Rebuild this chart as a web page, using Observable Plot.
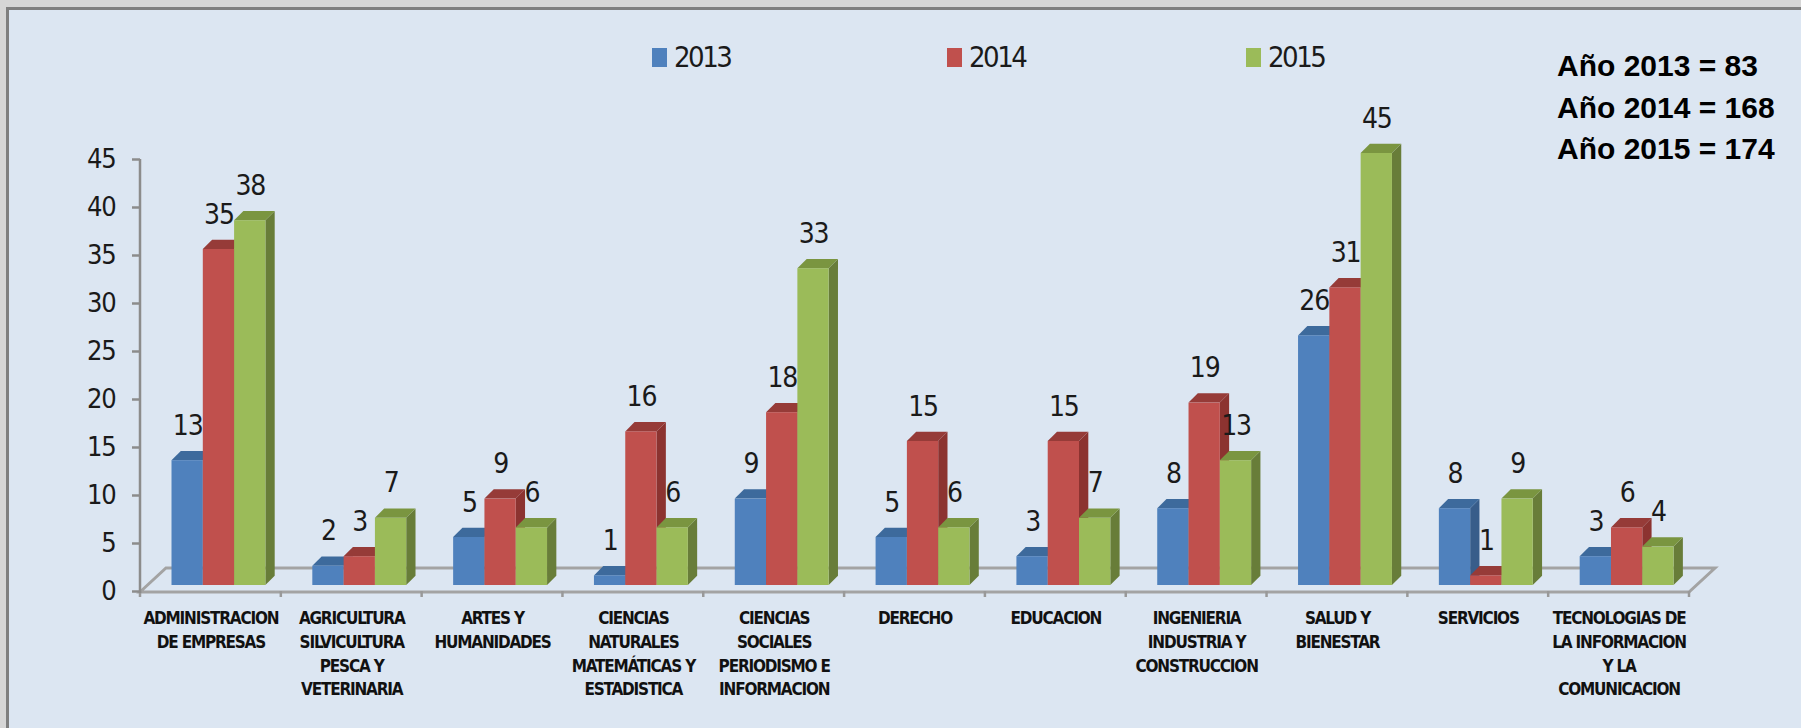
<!DOCTYPE html>
<html><head><meta charset="utf-8">
<script src="https://cdn.jsdelivr.net/npm/d3@7"></script>
<script src="https://cdn.jsdelivr.net/npm/@observablehq/plot@0.6"></script>
<style>
html,body{margin:0;padding:0;width:1801px;height:728px;overflow:hidden;background:#d6d6d6;}
#panel{position:absolute;left:6px;top:7px;width:1800px;height:730px;background:#dce6f2;border-left:3px solid #7f7f7f;border-top:3px solid #7f7f7f;}
#chart{position:absolute;left:0;top:0;}
.sq{position:absolute;width:15px;height:19px;}
.lt{position:absolute;font-family:"Liberation Sans Narrow","DejaVu Sans Condensed",sans-serif;font-size:29px;line-height:29px;letter-spacing:-2.5px;color:#1a1a1a;}
#totals{position:absolute;left:1557px;top:45px;font-family:"Liberation Sans",Arial,sans-serif;font-weight:bold;font-size:30px;line-height:41.5px;color:#000;}
</style></head><body>
<div id="panel"></div>
<div id="chart"></div>
<div id="legend"></div>
<div id="totals"></div>
<script>
// ---- data ----
const categories = ["ADMINISTRACION DE EMPRESAS","AGRICULTURA SILVICULTURA PESCA Y VETERINARIA","ARTES Y HUMANIDADES","CIENCIAS NATURALES MATEMÁTICAS Y ESTADISTICA","CIENCIAS SOCIALES PERIODISMO E INFORMACION","DERECHO","EDUCACION","INGENIERIA INDUSTRIA Y CONSTRUCCION","SALUD Y BIENESTAR","SERVICIOS","TECNOLOGIAS DE LA INFORMACION Y LA COMUNICACION"];
const categoryLabels = ["ADMINISTRACION\nDE EMPRESAS","AGRICULTURA\nSILVICULTURA\nPESCA Y\nVETERINARIA","ARTES Y\nHUMANIDADES","CIENCIAS\nNATURALES\nMATEMÁTICAS Y\nESTADISTICA","CIENCIAS\nSOCIALES\nPERIODISMO E\nINFORMACION","DERECHO","EDUCACION","INGENIERIA\nINDUSTRIA Y\nCONSTRUCCION","SALUD Y\nBIENESTAR","SERVICIOS","TECNOLOGIAS DE\nLA INFORMACION\nY LA\nCOMUNICACION"];
const years = ["2013","2014","2015"];
const values2013 = [13,2,5,1,9,5,3,8,26,8,3];
const values2014 = [35,3,9,16,18,15,15,19,31,1,6];
const values2015 = [38,7,6,6,33,6,7,13,45,9,4];
const totals = [83,168,174];
const yTicks = [0,5,10,15,20,25,30,35,40,45];

// ---- styling ----
const series = [values2013, values2014, values2015];
const frontColors = ["#4f81bd","#c0504d","#9bbb59"];
const topColors = ["#3d6a9c","#963b38","#7a9540"];
const sideColors = ["#385d8a","#8c3330","#687d39"];
const FONT = '"Liberation Sans Narrow","DejaVu Sans Condensed",sans-serif';

const W = 1801, H = 728, ML = 140, MR = 112, MT = 159, MB = 137;
const bw = (W - ML - MR) / categories.length;
const barOff = 31.5, barW = 31.3, depth = 9.3, lift = 6;

const rows = years.map((yr, k) => categories.map((c, i) => ({cat: c, year: yr, value: series[k][i], k})));

function floorMark(index, scales, values, dims) {
  const {x, y} = scales;
  const x0 = dims.marginLeft, x1 = dims.width - dims.marginRight;
  const y0 = y(0) + 1, ox = 26, oy = 24;
  const g = d3.create("svg:g").attr("fill", "none");
  g.append("path").attr("stroke", "#a3a3a3").attr("stroke-width", 3).attr("stroke-linejoin", "miter")
    .attr("d", `M${x0},${y0}L${x0 + ox},${y0 - oy}L${x1 + ox},${y0 - oy}L${x1},${y0}Z`);
  const bounds = categories.map(c => x(c)).concat([x1]);
  for (const bx of bounds) {
    g.append("line").attr("stroke", "#999").attr("stroke-width", 2.5)
      .attr("x1", bx).attr("x2", bx).attr("y1", y0 - 1).attr("y2", y0 + 5);
  }
  g.append("line").attr("stroke", "#8c8c8c").attr("stroke-width", 2.5)
    .attr("x1", x0).attr("x2", x0).attr("y1", y(45)).attr("y2", y(0) + 2);
  return g.node();
}

const facesMark = k => (index, scales) => {
  const {x, y} = scales;
  const g = d3.create("svg:g");
  categories.forEach((c, i) => {
    const v = series[k][i];
    const xl = x(c) + barOff + k * barW, xr = xl + barW;
    const yb = y(0) - lift, yt = y(v) - lift;
    g.append("path").attr("fill", sideColors[k])
      .attr("d", `M${xr},${yb}L${xr + depth},${yb - depth}L${xr + depth},${yt - depth}L${xr},${yt}Z`);
    g.append("path").attr("fill", topColors[k])
      .attr("d", `M${xl},${yt}L${xl + depth},${yt - depth}L${xr + depth},${yt - depth}L${xr},${yt}Z`);
  });
  return g.node();
};

const marks = [floorMark,
  Plot.axisY({ticks: yTicks, label: null, tickSize: 8, tickPadding: 17, fontSize: 27, stroke: "#8c8c8c", strokeWidth: 2.5, fill: "#1a1a1a", tickFormat: d => String(d)})
];
years.forEach((yr, k) => {
  marks.push(facesMark(k));
  marks.push(Plot.barY(rows[k], {x: "cat", y: "value", fill: frontColors[k],
    insetLeft: barOff + k * barW, insetRight: bw - barOff - (k + 1) * barW, dy: -lift}));
});
years.forEach((yr, k) => {
  marks.push(Plot.text(rows[k], {x: "cat", y: "value", text: d => String(d.value),
    dx: barOff + k * barW + barW / 2 - bw / 2, dy: -lift - 26, lineAnchor: "bottom",
    fontSize: 28, fill: "#1a1a1a"}));
});
marks.push(Plot.text(categories, {x: d => d, text: (d, i) => categoryLabels[i],
  frameAnchor: "bottom", lineAnchor: "top", dy: 16, fontSize: 17, fontWeight: "bold",
  lineHeight: 1.39, fill: "#111"}));

const chart = Plot.plot({
  width: W, height: H, marginLeft: ML, marginRight: MR, marginTop: MT, marginBottom: MB,
  style: {background: "transparent", fontFamily: FONT, overflow: "visible", letterSpacing: "-1.2px"},
  x: {type: "band", domain: categories, paddingInner: 0, paddingOuter: 0, round: false, axis: null},
  y: {domain: [0, 45], axis: null},
  marks
});
document.getElementById("chart").appendChild(chart);

// legend
const legendX = [652, 947, 1246];
const leg = document.getElementById("legend");
years.forEach((yr, k) => {
  const s = document.createElement("div");
  s.className = "sq"; s.style.left = legendX[k] + "px"; s.style.top = "48px"; s.style.background = frontColors[k];
  leg.appendChild(s);
  const t = document.createElement("div");
  t.className = "lt"; t.style.left = (legendX[k] + 22) + "px"; t.style.top = "43px"; t.textContent = yr;
  leg.appendChild(t);
});
// totals
document.getElementById("totals").innerHTML = years.map((yr, k) => `Año ${yr} = ${totals[k]}`).join("<br>");
</script>
</body></html>
